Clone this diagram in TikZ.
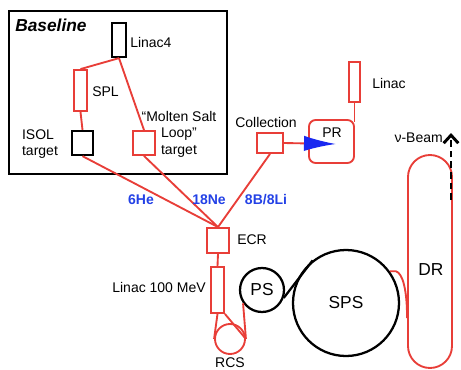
\documentclass[tikz,border=0pt]{standalone}
\usepackage{fontspec}
\setmainfont{Liberation Sans}
\usetikzlibrary{arrows.meta,calc}
\definecolor{cred}{RGB}{232,62,56}
\definecolor{cblue}{RGB}{35,65,230}
\definecolor{tblue}{RGB}{25,40,240}
\begin{document}
\begin{tikzpicture}[x=0.75pt,y=-0.75pt,
  rbox/.style={draw=cred,line width=1.4pt,inner sep=0pt,rectangle},
  bbox/.style={draw=black,line width=1.7pt,inner sep=0pt,rectangle},
  rline/.style={draw=cred,line width=1.4pt},
  ring/.style={draw=black,line width=1.7pt,circle,inner sep=0pt,font=\fontsize{13}{15}\selectfont},
  lbl/.style={font=\fontsize{10.5}{12.4}\selectfont,inner sep=0pt},
  big/.style={font=\fontsize{13}{15}\selectfont,inner sep=0pt},
  iso/.style={font=\bfseries\fontsize{10.5}{12.5}\selectfont,text=cblue,inner sep=0pt}]
\useasboundingbox (0,0) rectangle (461,369);
% baseline frame
\draw[line width=1.6pt] (9,11) rectangle (227,174);
% boxes
\node[bbox, minimum width=10.5pt, minimum height=25.5pt] (linac4) at (119,40) {};
\node[rbox, minimum width=9.75pt, minimum height=30.75pt] (spl) at (80.5,90.5) {};
\node[bbox, minimum width=15.75pt, minimum height=18pt] (isol) at (82.5,143) {};
\node[rbox, minimum width=16.5pt, minimum height=18pt] (msl) at (144,143) {};
\node[rbox, minimum width=19.5pt, minimum height=15pt] (coll) at (270,143) {};
\node[rbox, rounded corners=5pt, minimum width=33.75pt, minimum height=32.25pt] (pr) at (331.5,141.5) {};
\node[rbox, minimum width=8.25pt, minimum height=30pt] (linac) at (354.5,82) {};
\node[rbox, minimum width=16.5pt, minimum height=18.75pt] (ecr) at (218,240.5) {};
\node[rbox, minimum width=9.75pt, minimum height=34.5pt] (lin100) at (217.5,290) {};
\node[rbox, circle, minimum size=22.5pt] (rcs) at (230,339) {};
\node[ring, minimum size=33pt] (ps) at (262,290) {PS};
\node[ring, minimum size=79.5pt] (sps) at (346,303) {SPS};
\node[rbox, rounded corners=16.5pt, minimum width=33pt, minimum height=159.75pt] (dr) at (430,261.5) {};
% connectors
\draw[rline] (linac4.south) -- (spl.north);
\draw[rline] (linac4.south) -- (msl.north);
\draw[rline] (spl.south) -- (isol.north);
\draw[rline] (isol.south) -- (ecr.north);
\draw[rline] (msl.south) -- (ecr.north);
\draw[rline] (coll.south) -- (ecr.north);
\coordinate (prtip) at (336,144);
\draw[rline, -{Latex[color=tblue,length=24pt,width=11.5pt]}] (coll.east) -- (prtip);
\draw[rline] (linac.south) -- ([yshift=-2pt]linac.south |- pr.north);
\draw[rline] (ecr.south) -- (lin100.north);
\draw[rline] (lin100.south) -- (rcs.west);
\draw[rline] (lin100.south east) -- (rcs.east);
\draw[rline] (rcs.east) -- (ps.215);
\draw[line width=1.7pt] (ps.-20) -- (sps.128);
\coordinate (c290) at (0,290);
\coordinate (c318) at (0,318);
\draw[rline] (sps.36) -- ++(6,0) .. controls +(7,2) and (dr.west |- c290) .. (dr.west |- c318);
% nu beam
\coordinate (nb0) at (451,200);
\coordinate (nb1) at (451,133);
\draw[line width=2.2pt, dash pattern=on 5pt off 3pt, -{Straight Barb[length=6pt,width=11pt,line width=2.2pt]}] (nb0) -- (nb1);
% labels
\node[anchor=west, font=\bfseries\itshape\fontsize{13}{15}\selectfont, inner sep=0pt] (tbase) at (15,25) {Baseline};
\node[lbl, anchor=west] (tlinac4) at (130,42) {Linac4};
\node[lbl, anchor=west] (tspl) at (92,92) {SPL};
\node[lbl, align=left] (tisol) at (40,144) {ISOL\\target};
\node[lbl, align=center] (tmsl) at (179,134) {“Molten Salt\\Loop”\\target};
\node[lbl] (tcoll) at (266,122) {Collection};
\node[lbl] (tpr) at (332,133) {PR};
\node[lbl, anchor=west] (tlinac) at (372,83) {Linac};
\node[lbl, anchor=east] (tbeam) at (443,138) {ν-Beam};
\node[iso] (t6he) at (141,200) {6He};
\node[iso] (t18ne) at (209,200) {18Ne};
\node[iso] (t8b) at (266,200) {8B/8Li};
\node[lbl, anchor=west] (tecr) at (237,240) {ECR};
\node[lbl, anchor=east] (tlin100) at (206,287) {Linac 100 MeV};
\node[lbl, anchor=south] (trcs) at (230,368) {RCS};
\node[big] (tdr) at (431,270) {DR};
\end{tikzpicture}
\end{document}
